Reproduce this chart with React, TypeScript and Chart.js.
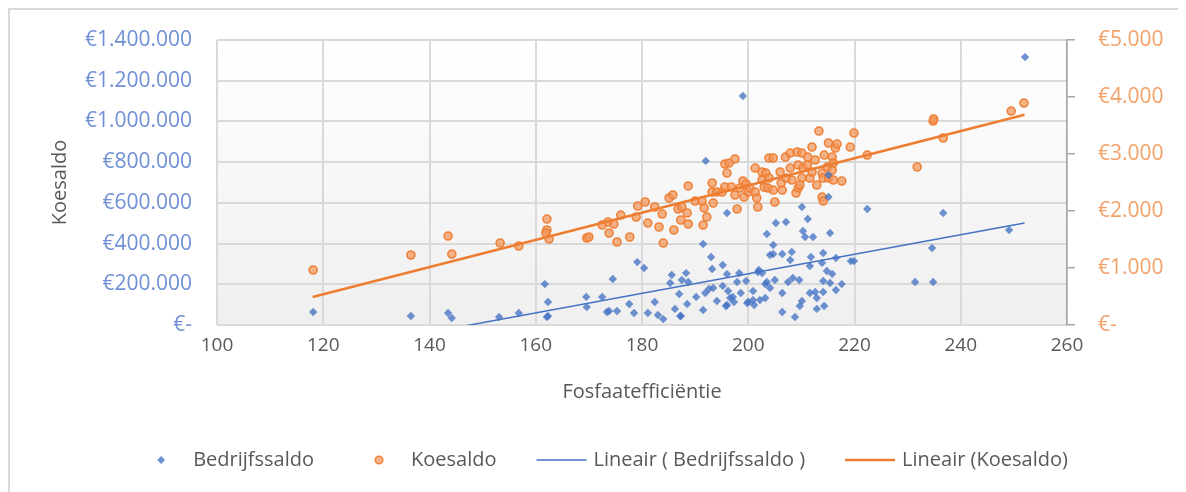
import React, { useEffect, useRef } from 'react';
import { Chart, registerables } from 'chart.js';

Chart.register(...registerables);

// ---- Data ----
const bedrijfX = [
  118.1, 136.5, 143.5, 144.2, 153.1, 156.8, 161.7, 162.3, 162.3, 162.1,
  169.5, 169.6, 172.5, 173.4, 173.8, 174.5, 175.3, 177.6, 178.5, 179.1,
  180.4, 181.1, 182.4, 183.0, 184.0, 185.3, 185.6, 186.2, 187.0, 187.3,
  187.5, 188.3, 188.7, 188.5, 190.2, 191.5, 191.5, 191.9, 192.6, 193.0,
  193.2, 194.1, 195.2, 195.8, 196.0, 196.2, 196.6, 197.3, 197.9, 198.3,
  198.6, 199.0, 200.0, 199.6, 200.9, 201.1, 201.8, 202.2, 203.2, 203.5,
  204.1, 192.0, 197.1, 199.8, 215.1, 215.1, 210.1, 222.4, 205.2, 207.1,
  211.2, 210.3, 210.7, 212.2, 215.4, 204.7, 204.7, 206.4, 208.2, 207.9,
  211.8, 211.6, 214.1, 216.5, 213.9, 214.8, 215.8, 219.3, 219.9, 202.6,
  203.5, 205.0, 207.5, 208.4, 209.6, 204.1, 206.4, 203.2, 210.1, 211.6,
  212.6, 214.1, 214.1, 215.4, 216.5, 217.6, 206.4, 208.8, 209.7, 212.9,
  214.3, 212.9, 252.1, 236.7, 249.1, 234.6, 231.4, 234.8, 196.0, 193.4,
  195.2, 202.0, 200.9, 187.2, 196.0,
];
const bedrijfY = [
  64000, 44000, 59000, 34000, 39000, 59000, 201000, 113000, 44000, 39000,
  138000, 88000, 138000, 64000, 69000, 226000, 69000, 103000, 59000, 309000,
  280000, 59000, 113000, 49000, 29000, 206000, 246000, 79000, 152000, 44000,
  221000, 255000, 211000, 103000, 138000, 74000, 398000, 157000, 177000, 334000,
  275000, 118000, 295000, 93000, 550000, 167000, 133000, 113000, 211000, 255000,
  157000, 1125000, 113000, 216000, 167000, 98000, 260000, 123000, 201000, 447000,
  344000, 806000, 138000, 108000, 737000, 629000, 580000, 570000, 501000, 506000,
  521000, 462000, 432000, 432000, 452000, 393000, 349000, 349000, 359000, 319000,
  334000, 290000, 354000, 329000, 305000, 265000, 251000, 314000, 314000, 255000,
  211000, 221000, 211000, 231000, 221000, 182000, 157000, 133000, 118000, 157000,
  162000, 162000, 216000, 206000, 172000, 201000, 64000, 39000, 93000, 79000,
  93000, 133000, 1316000, 550000, 467000, 378000, 211000, 211000, 250000, 182000,
  192000, 270000, 123000, 44000, 98000,
];

const koeX = [
  118.1, 136.5, 143.5, 144.2, 153.3, 156.8, 162.1, 162.1, 161.9, 162.5,
  169.6, 170.0, 172.5, 173.6, 174.7, 173.8, 175.3, 176.0, 177.7, 178.9,
  179.2, 180.6, 181.1, 182.4, 183.2, 183.8, 184.0, 185.1, 185.8, 186.0,
  186.8, 187.3, 187.5, 188.5, 188.7, 188.7, 190.0, 191.3, 191.5, 191.7,
  192.2, 193.2, 193.2, 193.4, 194.1, 195.1, 195.6, 195.6, 196.0, 196.4,
  197.5, 196.8, 197.9, 197.5, 198.4, 199.0, 199.2, 199.6, 200.0, 200.3,
  201.3, 201.3, 201.6, 201.8, 202.6, 203.0, 203.3, 203.7, 203.9, 204.7,
  202.6, 204.7, 205.0, 206.0, 206.4, 207.0, 207.9, 207.9, 208.2, 209.0,
  209.4, 209.2, 209.4, 210.1, 210.3, 210.1, 211.2, 211.1, 211.6, 212.0,
  212.0, 212.9, 213.3, 213.9, 214.1, 213.9, 214.1, 214.3, 215.1, 215.1,
  214.9, 215.8, 215.8, 216.0, 216.0, 216.4, 216.7, 217.6, 219.2, 219.9,
  222.4, 231.8, 234.8, 234.9, 236.7, 249.5, 251.9, 203.9, 206.2, 209.7,
  207.1, 212.6,
];
const koeY = [
  965, 1228, 1561, 1245, 1438, 1386, 1859, 1667, 1614, 1508,
  1526, 1544, 1754, 1807, 1772, 1614, 1456, 1929, 1544, 1894,
  2088, 2158, 1789, 2070, 1719, 1947, 1438, 2228, 2281, 1667,
  2035, 1842, 2070, 1965, 1772, 2439, 2175, 2175, 1754, 2052,
  1894, 2491, 2333, 2140, 2333, 2333, 2421, 2824, 2666, 2842,
  2912, 2421, 2035, 2281, 2403, 2526, 2245, 2474, 2333, 2403,
  2754, 2333, 2228, 2070, 2684, 2421, 2666, 2403, 2930, 2930,
  2544, 2368, 2158, 2684, 2368, 2947, 3017, 2754, 2544, 2316,
  2403, 3035, 2807, 3017, 2754, 2579, 2947, 2807, 2579, 3122,
  2684, 2456, 3403, 2666, 2579, 2245, 2175, 2982, 3193, 2579,
  2772, 2947, 2719, 2842, 2544, 3105, 3175, 2526, 3122, 3368,
  2982, 2772, 3579, 3614, 3281, 3754, 3895, 2579, 2491, 2456,
  2579, 2895,
];

const trendX = [118, 252];
const bedrijfTrend = [-142000, 501000];
const koeTrend = [491, 3690];

const seriesLabels = ['Bedrijfssaldo', 'Koesaldo', 'Lineair ( Bedrijfssaldo )', 'Lineair (Koesaldo)'];
const xTitle = 'Fosfaatefficiëntie';
const yTitle = 'Koesaldo';

const FONT = '"Open Sans", "DejaVu Sans", sans-serif';
const BLUE = '#4472c4';
const ORANGE = '#ed7d31';
const GRAY_TEXT = '#595959';

const euro = (v: number) =>
  v === 0 ? '€-' : '€' + Math.round(v).toString().replace(/\B(?=(\d{3})+(?!\d))/g, '.');

const bgPlugin = {
  id: 'plotBg',
  beforeDraw(chart: any) {
    const { ctx, chartArea } = chart;
    if (!chartArea) return;
    const g = ctx.createLinearGradient(0, chartArea.top, 0, chartArea.bottom);
    g.addColorStop(0, '#ffffff');
    g.addColorStop(1, '#efefef');
    ctx.save();
    ctx.fillStyle = g;
    ctx.fillRect(chartArea.left, chartArea.top, chartArea.right - chartArea.left, chartArea.bottom - chartArea.top);
    ctx.restore();
  },
};

const legendPlugin = {
  id: 'customLegend',
  afterDraw(chart: any) {
    const ctx = chart.ctx;
    const datasets = chart.data.datasets;
    const boxW = 50;
    const gap = 7;
    const spacing = 40;
    ctx.save();
    ctx.font = `20px ${FONT}`;
    const widths = datasets.map((d: any) => boxW + gap + ctx.measureText(d.label).width);
    const total = widths.reduce((a: number, b: number) => a + b, 0) + spacing * (datasets.length - 1);
    let x = chart.width / 2 + 4 - total / 2;
    const cy = chart.height - 32;
    datasets.forEach((d: any, i: number) => {
      const cx = x + boxW / 2;
      if (d.type === 'line') {
        ctx.strokeStyle = d.borderColor;
        ctx.lineWidth = d.borderWidth;
        ctx.beginPath();
        ctx.moveTo(x, cy);
        ctx.lineTo(x + boxW, cy);
        ctx.stroke();
      } else if (d.pointStyle === 'rectRot') {
        const r = 4;
        ctx.fillStyle = d.backgroundColor;
        ctx.beginPath();
        ctx.moveTo(cx - r, cy);
        ctx.lineTo(cx, cy - r);
        ctx.lineTo(cx + r, cy);
        ctx.lineTo(cx, cy + r);
        ctx.closePath();
        ctx.fill();
      } else {
        ctx.fillStyle = d.backgroundColor;
        ctx.strokeStyle = d.borderColor;
        ctx.lineWidth = 1.5;
        ctx.beginPath();
        ctx.arc(cx, cy, 3.8, 0, Math.PI * 2);
        ctx.fill();
        ctx.stroke();
      }
      ctx.fillStyle = GRAY_TEXT;
      ctx.textBaseline = 'middle';
      ctx.textAlign = 'left';
      ctx.fillText(d.label, x + boxW + gap, cy);
      x += widths[i] + spacing;
    });
    ctx.restore();
  },
};

export default function App() {
  const canvasRef = useRef<HTMLCanvasElement | null>(null);

  useEffect(() => {
    document.body.style.overflow = 'hidden';
    const canvas = canvasRef.current;
    if (!canvas) return;
    const chart = new Chart(canvas, {
      type: 'scatter',
      data: {
        datasets: [
          {
            type: 'scatter',
            label: seriesLabels[0],
            data: bedrijfX.map((x, i) => ({ x, y: bedrijfY[i] })),
            yAxisID: 'y',
            pointStyle: 'rectRot',
            pointRadius: 4.2,
            backgroundColor: 'rgba(68,114,196,0.78)',
            borderColor: 'rgba(68,114,196,0.78)',
            borderWidth: 0,
            order: 1,
          } as any,
          {
            type: 'scatter',
            label: seriesLabels[1],
            data: koeX.map((x, i) => ({ x, y: koeY[i] })),
            yAxisID: 'y2',
            pointStyle: 'circle',
            pointRadius: 4,
            backgroundColor: 'rgba(242,150,90,0.72)',
            borderColor: 'rgba(237,125,49,0.95)',
            borderWidth: 1.6,
            order: 2,
          } as any,
          {
            type: 'line',
            label: seriesLabels[2],
            data: trendX.map((x, i) => ({ x, y: bedrijfTrend[i] })),
            yAxisID: 'y',
            borderColor: BLUE,
            borderWidth: 1.5,
            pointRadius: 0,
            fill: false,
            order: 0,
          } as any,
          {
            type: 'line',
            label: seriesLabels[3],
            data: trendX.map((x, i) => ({ x, y: koeTrend[i] })),
            yAxisID: 'y2',
            borderColor: ORANGE,
            borderWidth: 2.5,
            pointRadius: 0,
            fill: false,
            order: 0,
          } as any,
        ],
      },
      options: {
        responsive: false,
        animation: false,
        devicePixelRatio: 1,
        layout: { padding: { left: 38, right: 0, top: 30, bottom: 67 } },
        plugins: {
          legend: { display: false },
          tooltip: { enabled: false },
        },
        scales: {
          x: {
            type: 'linear',
            min: 100,
            max: 260,
            ticks: { stepSize: 20, color: GRAY_TEXT, font: { family: FONT, size: 19 }, padding: 9 },
            grid: { color: '#d9d9d9', lineWidth: 2, drawTicks: false },
            border: { display: false },
            title: {
              display: true,
              text: xTitle,
              color: GRAY_TEXT,
              font: { family: FONT, size: 20 },
              padding: { top: 0, bottom: 21 },
            },
            afterFit: (s: any) => { s.height = 100; s.paddingLeft = 0; s.paddingRight = 0; },
          },
          y: {
            type: 'linear',
            position: 'left',
            min: 0,
            max: 1400000,
            ticks: {
              stepSize: 200000,
              callback: (v: any) => euro(Number(v)),
              color: '#6f90d5',
              font: { family: FONT, size: 21 },
              padding: 25,
            },
            grid: { color: '#d9d9d9', lineWidth: 2, drawTicks: false },
            border: { display: false },
            title: {
              display: true,
              text: yTitle,
              color: GRAY_TEXT,
              font: { family: FONT, size: 20 },
              padding: { top: 0, bottom: 0 },
            },
            afterFit: (s: any) => { s.width = 169; s.paddingTop = 0; s.paddingBottom = 0; },
          },
          y2: {
            type: 'linear',
            position: 'right',
            min: 0,
            max: 5000,
            ticks: {
              stepSize: 1000,
              callback: (v: any) => euro(Number(v)),
              color: '#f3a169',
              font: { family: FONT, size: 21 },
              padding: 23,
            },
            grid: { drawOnChartArea: false, drawTicks: true, tickLength: 8, color: '#a6a6a6', lineWidth: 1.5 },
            border: { display: true, color: '#a6a6a6', width: 1.5 },
            afterFit: (s: any) => { s.width = 119; s.paddingTop = 0; s.paddingBottom = 0; },
          },
        },
      } as any,
      plugins: [bgPlugin, legendPlugin],
    });
    return () => chart.destroy();
  }, []);

  return (
    <div
      style={{
        width: 1178,
        height: 484,
        boxSizing: 'border-box',
        borderTop: '2px solid #d9d9d9',
        borderLeft: '2px solid #d9d9d9',
        background: '#ffffff',
      }}
    >
      <canvas ref={canvasRef} width={1176} height={482} style={{ display: 'block', width: 1176, height: 482 }} />
    </div>
  );
}
